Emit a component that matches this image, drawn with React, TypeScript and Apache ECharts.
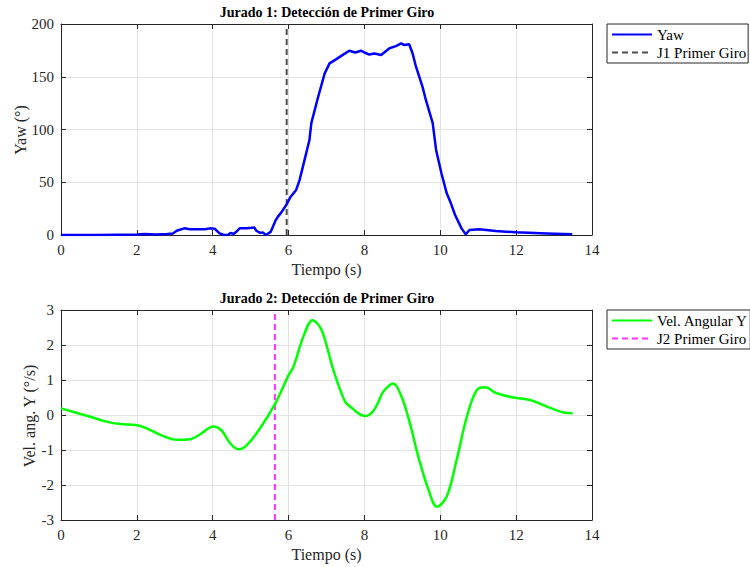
import React, { useEffect, useRef } from "react";
import * as echarts from "echarts";

const yawTime = [0, 0.5, 1.0, 1.5, 2.0, 2.2, 2.5, 2.8, 2.95, 3.05, 3.25, 3.4, 3.6, 3.8, 3.92, 4.05, 4.18, 4.3, 4.4, 4.47, 4.55, 4.62, 4.71, 4.9, 5.1, 5.15, 5.25, 5.32, 5.4, 5.53, 5.66, 5.72, 5.79, 5.94, 6.05, 6.2, 6.29, 6.42, 6.55, 6.6, 6.77, 6.95, 7.08, 7.25, 7.4, 7.6, 7.76, 7.91, 8.0, 8.13, 8.26, 8.44, 8.66, 8.83, 8.97, 9.05, 9.18, 9.27, 9.36, 9.53, 9.62, 9.8, 9.89, 10.03, 10.17, 10.28, 10.39, 10.56, 10.67, 10.77, 11.03, 11.46, 12.0, 12.8, 13.48];
const yawValues = [0, 0, 0, 0.3, 0.5, 1, 0.5, 1, 1.5, 4, 6.3, 5.5, 5.4, 5.4, 6.3, 6, 1.5, 0, 0, 2, 1, 3, 6.3, 6.5, 7, 4, 2, 2.5, 0, 3, 14, 17.4, 20.5, 28.4, 36, 42.7, 52, 71, 90, 106, 129.6, 153, 162.7, 166.5, 170, 174.7, 173, 174.7, 173, 171, 172, 170.6, 177, 179, 181.7, 180, 180.8, 172, 159.5, 140.6, 128, 106, 80.6, 58.5, 39.5, 30, 19, 6.3, 0.6, 4.7, 5.4, 3.8, 2.5, 1.5, 0.6];

const velTime = [0, 0.77, 1.2, 1.56, 2.0, 2.26, 2.62, 3.06, 3.41, 3.67, 4.02, 4.24, 4.46, 4.68, 4.9, 5.25, 5.65, 6.0, 6.13, 6.39, 6.63, 6.87, 7.18, 7.49, 7.65, 7.8, 7.92, 8.02, 8.12, 8.24, 8.37, 8.5, 8.76, 8.98, 9.2, 9.42, 9.69, 9.91, 10.17, 10.43, 10.7, 10.96, 11.18, 11.49, 11.93, 12.37, 12.81, 13.25, 13.49];
const velValues = [0.19, -0.05, -0.19, -0.26, -0.29, -0.38, -0.57, -0.71, -0.69, -0.55, -0.33, -0.45, -0.81, -0.98, -0.86, -0.38, 0.33, 1.14, 1.38, 2.24, 2.71, 2.43, 1.29, 0.38, 0.22, 0.08, 0.0, -0.03, 0.0, 0.12, 0.38, 0.67, 0.9, 0.52, -0.24, -1.19, -2.14, -2.62, -2.33, -1.29, -0.05, 0.71, 0.79, 0.62, 0.5, 0.43, 0.24, 0.07, 0.05];

const j1Time = 5.95;
const j2Time = 5.64;

const titles = ["Jurado 1: Detección de Primer Giro", "Jurado 2: Detección de Primer Giro"];
const yNames = ["Yaw (°)", "Vel. ang. Y (°/s)"];
const seriesNames = ["Yaw", "J1 Primer Giro", "Vel. Angular Y", "J2 Primer Giro"];

const FONT = "Liberation Serif";
const AX = "#262626";

function xAxes(gridIndex: number) {
  return [
    {
      type: "value", gridIndex, min: 0, max: 14, interval: 2,
      name: "Tiempo (s)", nameLocation: "middle", nameGap: 26,
      nameTextStyle: { fontFamily: FONT, fontSize: 16, color: AX },
      axisLine: { onZero: false, lineStyle: { color: AX, width: 1 } },
      axisTick: { inside: true, length: 5, lineStyle: { color: AX } },
      axisLabel: { fontFamily: FONT, fontSize: 15, color: AX, margin: 7 },
      splitLine: { show: true, lineStyle: { color: "#e3e3e3", width: 1 } },
    },
    {
      type: "value", gridIndex, min: 0, max: 14, interval: 2, position: "top",
      axisLine: { onZero: false, lineStyle: { color: AX, width: 1 } },
      axisTick: { inside: true, length: 5, lineStyle: { color: AX } },
      axisLabel: { show: false },
      splitLine: { show: false },
    },
  ];
}

function yAxes(gridIndex: number, min: number, max: number, interval: number) {
  return [
    {
      type: "value", gridIndex, min, max, interval,
      axisLine: { show: true, onZero: false, lineStyle: { color: AX, width: 1 } },
      axisTick: { show: true, inside: true, length: 5, lineStyle: { color: AX } },
      axisLabel: { fontFamily: FONT, fontSize: 15, color: AX, margin: 7 },
      splitLine: { show: true, lineStyle: { color: "#e3e3e3", width: 1 } },
    },
    {
      type: "value", gridIndex, min, max, interval, position: "right",
      axisLine: { show: true, onZero: false, lineStyle: { color: AX, width: 1 } },
      axisTick: { show: true, inside: true, length: 5, lineStyle: { color: AX } },
      axisLabel: { show: false },
      splitLine: { show: false },
    },
  ];
}

function titleText(text: string, y: number) {
  return {
    type: "text",
    x: 327,
    y,
    style: {
      text,
      fontSize: 14,
      fontFamily: FONT,
      fontWeight: "bold",
      fill: "#000",
      align: "center",
      verticalAlign: "middle",
    },
  };
}

function yNameText(text: string, x: number, y: number) {
  return {
    type: "text",
    x,
    y,
    rotation: Math.PI / 2,
    style: {
      text,
      fontSize: 16,
      fontFamily: FONT,
      fill: AX,
      align: "center",
      verticalAlign: "middle",
    },
  };
}

export default function App() {
  const ref = useRef<HTMLDivElement>(null);
  useEffect(() => {
    if (!ref.current) return;
    const chart = echarts.init(ref.current, null, { renderer: "svg" });
    const legendCommon = {
      orient: "vertical",
      left: 607,
      itemWidth: 40,
      itemHeight: 14,
      itemGap: 3,
      padding: [3, 2, 3, 4],
      borderColor: AX,
      borderWidth: 1,
      backgroundColor: "#ffffff",
      selectedMode: false,
      itemStyle: { opacity: 0 },
      textStyle: { fontFamily: FONT, fontSize: 15, color: "#000" },
    };
    chart.setOption({
      animation: false,
      backgroundColor: "#ffffff",
      graphic: [
        titleText(titles[0], 12),
        titleText(titles[1], 298),
        yNameText(yNames[0], 20.5, 130),
        yNameText(yNames[1], 29, 416),
      ],
      legend: [
        { ...legendCommon, top: 24, data: [seriesNames[0], seriesNames[1]] },
        { ...legendCommon, top: 310, data: [seriesNames[2], seriesNames[3]] },
      ],
      grid: [
        { left: 61, top: 24, width: 531, height: 211, outerBoundsMode: "none", containLabel: false },
        { left: 61, top: 310, width: 531, height: 210, outerBoundsMode: "none", containLabel: false },
      ],
      xAxis: [...xAxes(0), ...xAxes(1)],
      yAxis: [
        ...yAxes(0, 0, 200, 50),
        ...yAxes(1, -3, 3, 1),
      ],
      series: [
        {
          name: seriesNames[0], type: "line", xAxisIndex: 0, yAxisIndex: 0,
          data: yawTime.map((t, i) => [t, yawValues[i]]),
          showSymbol: false, symbol: "none",
          lineStyle: { color: "#0000ff", width: 2.5 }, itemStyle: { color: "#0000ff" }, z: 3,
        },
        {
          name: seriesNames[1], type: "line", xAxisIndex: 0, yAxisIndex: 0,
          data: [[j1Time, 0], [j1Time, 200]],
          showSymbol: false, symbol: "none",
          lineStyle: { color: "#4d4d4d", width: 2, type: [6, 4] }, itemStyle: { color: "#4d4d4d" }, z: 2,
        },
        {
          name: seriesNames[2], type: "line", xAxisIndex: 2, yAxisIndex: 2,
          data: velTime.map((t, i) => [t, velValues[i]]),
          showSymbol: false, symbol: "none", smooth: 0.35,
          lineStyle: { color: "#00ff00", width: 2.5 }, itemStyle: { color: "#00ff00" }, z: 3,
        },
        {
          name: seriesNames[3], type: "line", xAxisIndex: 2, yAxisIndex: 2,
          data: [[j2Time, -3], [j2Time, 3]],
          showSymbol: false, symbol: "none",
          lineStyle: { color: "#ff33ff", width: 2, type: [6, 4] }, itemStyle: { color: "#ff33ff" }, z: 2,
        },
      ],
    });
    return () => chart.dispose();
  }, []);
  return <div ref={ref} style={{ width: 750, height: 567, position: "absolute", left: 0, top: 0 }} />;
}
